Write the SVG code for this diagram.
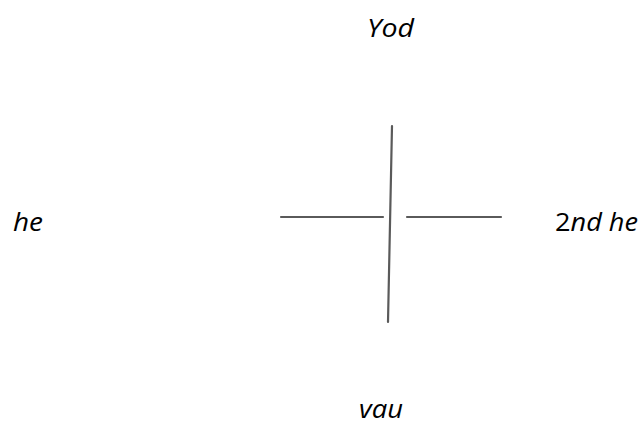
<svg xmlns="http://www.w3.org/2000/svg" width="642" height="427" viewBox="0 0 642 427">
<style>
text{font-family:"Open Sans","Lato",sans-serif;font-size:26px;font-style:italic;fill:#000}
.ln{stroke:#5a5a5a;stroke-width:2.2;stroke-linecap:round;fill:none}
</style>
<rect width="642" height="427" fill="#fff"/>
<g id="yod"><text x="367" y="37" textLength="47" lengthAdjust="spacingAndGlyphs">Yod</text></g>
<g id="he"><text x="13" y="231" textLength="30" lengthAdjust="spacingAndGlyphs">he</text></g>
<g id="second-he"><text x="555" y="231" textLength="83" lengthAdjust="spacingAndGlyphs"><tspan font-style="normal">2</tspan>nd he</text></g>
<g id="vau"><text x="359" y="418" textLength="44" lengthAdjust="spacingAndGlyphs">vau</text></g>
<g id="connectors">
<line class="ln" x1="392" y1="126" x2="388" y2="322"/>
<line class="ln" x1="281" y1="217" x2="383" y2="217"/>
<line class="ln" x1="407" y1="217" x2="501" y2="217"/>
</g>
</svg>
